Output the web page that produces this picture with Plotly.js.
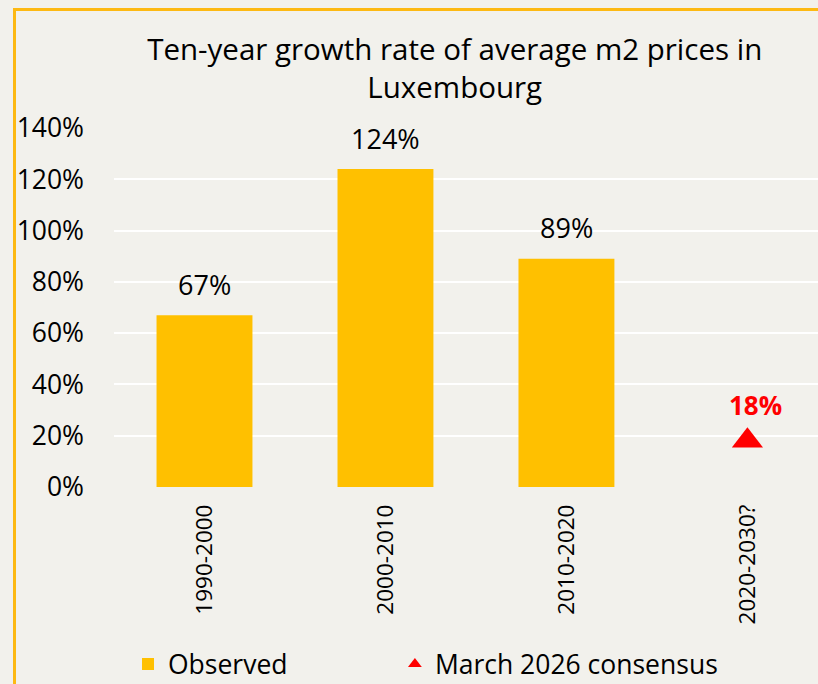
<!DOCTYPE html>
<html>
<head>
<meta charset="utf-8">
<script src="https://cdn.plot.ly/plotly-3.0.1.min.js"></script>
<style>
  html, body { margin: 0; padding: 0; background: #F2F1EC; overflow: hidden; }
  #chart { position: absolute; left: 0; top: 0; width: 818px; height: 684px; }
  #frame { position: absolute; left: 13px; top: 8px; width: 900px; height: 800px;
           border: 3px solid #FDB913; box-sizing: border-box; pointer-events: none; }
</style>
</head>
<body>
<div id="chart"></div>
<div id="frame"></div>
<script>
const categories = ["1990-2000", "2000-2010", "2010-2020", "2020-2030?"];
const observedCats = ["1990-2000", "2000-2010", "2010-2020"];
const observedValues = [0.67, 1.24, 0.89];
const consensusCats = ["2020-2030?"];
const consensusValues = [0.18];
const yTickVals = [0, 0.2, 0.4, 0.6, 0.8, 1.0, 1.2, 1.4];
const yTickText = ["0%", "20%", "40%", "60%", "80%", "100%", "120%", "140%"];

const FONT = "Open Sans, Noto Sans, sans-serif";

const traces = [
  {
    type: "bar",
    name: "Observed",
    x: observedCats,
    y: observedValues,
    width: 0.53,
    marker: { color: "#FFC000" },
    legend: "legend",
    hoverinfo: "skip"
  },
  {
    type: "scatter",
    mode: "markers",
    name: "March 2026 consensus",
    x: consensusCats,
    y: consensusValues,
    marker: { symbol: "triangle-up", size: 27, color: "#FF0000" },
    cliponaxis: false,
    legend: "legend2",
    hoverinfo: "skip"
  }
];

const annotations = observedCats.map((c, i) => ({
  x: c, y: observedValues[i], xref: "x", yref: "y",
  text: Math.round(observedValues[i] * 100) + "%",
  showarrow: false, yanchor: "middle", yshift: 31,
  font: { family: FONT, size: 27, color: "#000000" }
})).concat(consensusCats.map((c, i) => ({
  x: c, y: consensusValues[i], xref: "x", yref: "y",
  text: "<b>" + Math.round(consensusValues[i] * 100) + "%</b>",
  showarrow: false, yanchor: "middle", yshift: 36, xshift: 8,
  font: { family: FONT, size: 26, color: "#FF0000" }
})));

const legendBase = {
  orientation: "h",
  yanchor: "middle",
  y: -0.494,
  xanchor: "left",
  font: { family: FONT, size: 26.5, color: "#000000" },
  bgcolor: "rgba(0,0,0,0)",
  itemsizing: "constant"
};

const layout = {
  width: 818, height: 684,
  paper_bgcolor: "#F2F1EC",
  plot_bgcolor: "#F2F1EC",
  margin: { l: 114, r: 0, t: 128, b: 197, autoexpand: false },
  font: { family: FONT, color: "#000000" },
  title: {
    text: "Ten-year growth rate of average m2 prices in<br>Luxembourg",
    font: { family: FONT, size: 29.5, color: "#000000" },
    x: 0.484, xref: "paper", xanchor: "center",
    y: 0.913, yref: "container", yanchor: "top"
  },
  xaxis: {
    type: "category",
    categoryorder: "array",
    categoryarray: categories,
    range: [-0.5, 3.39],
    tickangle: -90,
    tickfont: { family: FONT, size: 22.5, color: "#000000" },
    showgrid: false, zeroline: false, showline: false, ticks: "",
    ticklabelstandoff: 12,
    automargin: false
  },
  yaxis: {
    range: [0, 1.4],
    tickvals: yTickVals,
    ticktext: yTickText,
    tickfont: { family: FONT, size: 26.5, color: "#000000" },
    showgrid: true, gridcolor: "#FFFFFF", gridwidth: 2,
    zeroline: false, showline: false, ticks: "",
    ticklabelstandoff: 29,
    automargin: false
  },
  showlegend: true,
  legend: Object.assign({}, legendBase, { x: 0.0199 }),
  legend2: Object.assign({}, legendBase, { x: 0.399 }),
  annotations: annotations
};

Plotly.newPlot("chart", traces, layout, { displayModeBar: false, staticPlot: true });
</script>
</body>
</html>
